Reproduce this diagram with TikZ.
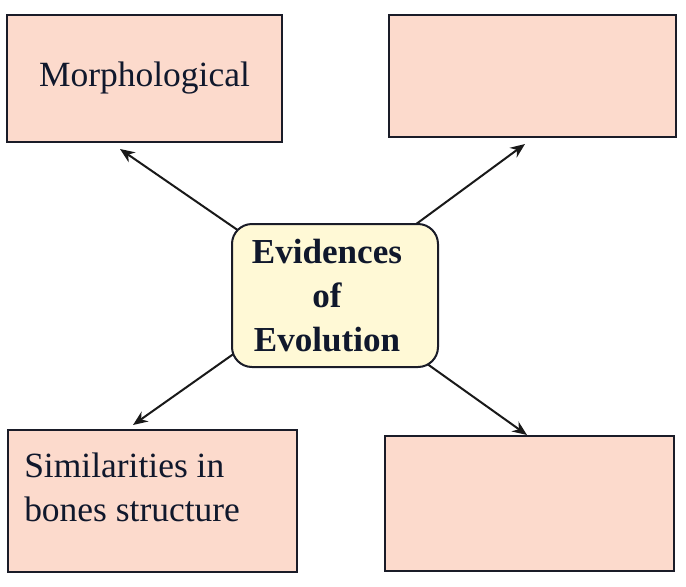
\documentclass[tikz,border=0pt]{standalone}
\usepackage{fontspec}
\setmainfont{Liberation Serif}
\usetikzlibrary{arrows.meta,backgrounds}
\definecolor{boxpink}{RGB}{252,218,204}
\definecolor{boxyellow}{RGB}{255,249,214}
\definecolor{edge}{RGB}{26,28,40}
\definecolor{ink}{RGB}{16,24,44}
\tikzset{
  pinkbox/.style={draw=edge, line width=1.5pt, fill=boxpink, inner sep=0pt, text=ink,
    font=\fontsize{26.6pt}{33pt}\selectfont},
  centerbox/.style={draw=edge, line width=1.5pt, fill=boxyellow, rounded corners=15pt, inner sep=0pt},
  lbl/.style={text=ink, inner sep=0pt, font=\fontsize{26.6pt}{32.5pt}\selectfont},
  boldlbl/.style={text=ink, inner sep=0pt, align=center, font=\bfseries\fontsize{26.3pt}{33pt}\selectfont},
  link/.style={draw=black!90, line width=1.5pt, -{Stealth[length=11pt,width=9pt]}}
}
\begin{document}
\begin{tikzpicture}[x=0.75pt,y=-0.75pt]
\useasboundingbox (0,0) rectangle (686,586);
% outer boxes
\node[pinkbox, minimum width=275*0.75pt, minimum height=127*0.75pt] (tl) at (144.5,78.5) {Morphological};
\node[pinkbox, minimum width=287*0.75pt, minimum height=122*0.75pt] (tr) at (532.5,76) {};
\node[pinkbox, minimum width=289*0.75pt, minimum height=142*0.75pt] (bl) at (152.5,501) {};
\node[pinkbox, minimum width=289*0.75pt, minimum height=135*0.75pt] (br) at (529.5,503.5) {};
\node[lbl, anchor=base west, align=left] (bltext) at (24,521) {Similarities in\\bones structure};
% center
\node[centerbox, minimum width=206*0.75pt, minimum height=143*0.75pt] (ev) at (335,295.5) {};
\node[boldlbl] (evtext) at (327,295.5) {Evidences\\of\\Evolution};
% connectors
\begin{scope}[on background layer]
\draw[link] ([shift={(-35,-22.5)}]ev.center) -- ([shift={(114,6)}]tl.south west);
\draw[link] ([shift={(35,-37.5)}]ev.center) -- ([shift={(137,6)}]tr.south west);
\draw[link] ([shift={(-35,11.5)}]ev.center) -- ([shift={(126,-4)}]bl.north west);
\draw[link] ([shift={(35,27.7)}]ev.center) -- ([shift={(143,0)}]br.north west);
\end{scope}
\end{tikzpicture}
\end{document}
